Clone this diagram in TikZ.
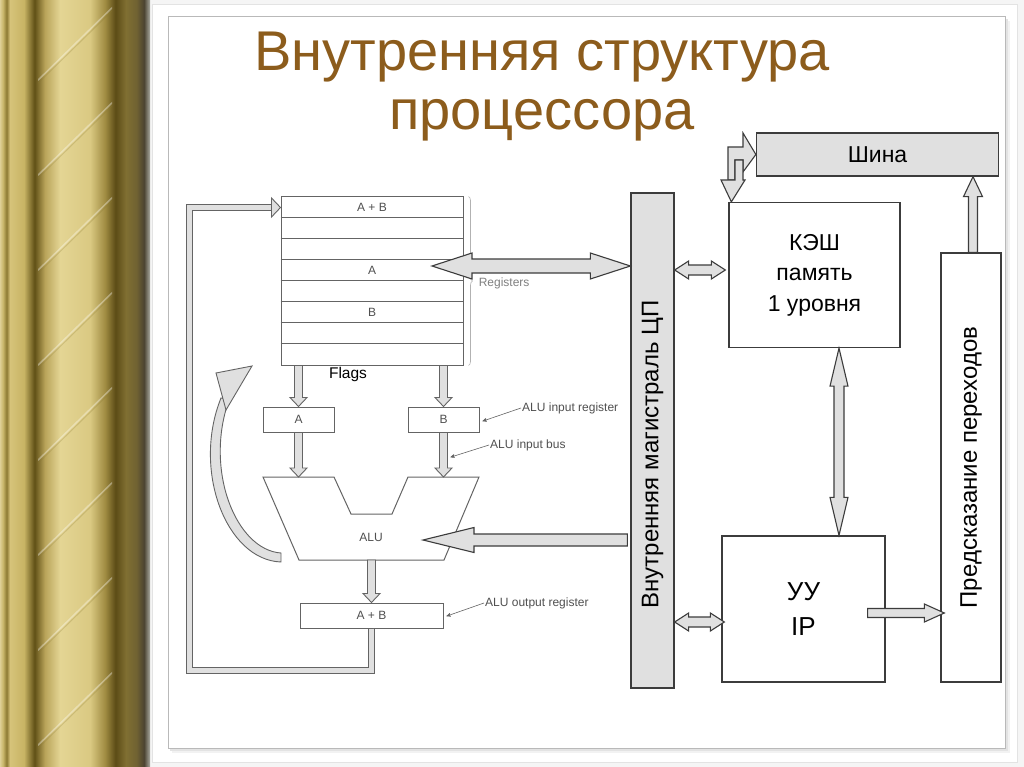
\documentclass[tikz,border=0pt]{standalone}
\usepackage{fontspec}
\setmainfont{Liberation Sans}
\usetikzlibrary{arrows,calc,positioning,decorations.pathreplacing}

\definecolor{titlebrown}{RGB}{140,92,28}
\definecolor{barfill}{RGB}{224,224,224}
\definecolor{figgray}{RGB}{100,100,100}
\definecolor{figtxt}{RGB}{80,80,80}
\definecolor{boxline}{RGB}{60,60,60}
% gold column
\definecolor{gA}{RGB}{222,208,150}
\definecolor{gB}{RGB}{200,182,106}
\definecolor{gC}{RGB}{140,122,51}
\definecolor{gD}{RGB}{214,195,122}
\definecolor{gE}{RGB}{200,180,100}
\definecolor{gF}{RGB}{96,80,22}
\definecolor{gG}{RGB}{185,164,90}
\definecolor{gH}{RGB}{228,213,148}
\definecolor{gI}{RGB}{218,201,130}
\definecolor{gJ}{RGB}{160,140,66}
\definecolor{gK}{RGB}{92,76,22}
\definecolor{gL}{RGB}{128,111,50}
\definecolor{gM}{RGB}{112,98,50}
\definecolor{gN}{RGB}{76,68,50}
\definecolor{gO}{RGB}{170,170,162}
\pgfdeclarehorizontalshading{goldcolumn}{100bp}{color(0bp)=(gA); color(25bp)=(gA);
  color(26bp)=(gB); color(27.2bp)=(gC); color(28.3bp)=(gD); color(33bp)=(gE);
  color(36.5bp)=(gF); color(40bp)=(gG); color(45bp)=(gH); color(55bp)=(gI);
  color(60bp)=(gJ); color(63.5bp)=(gK); color(67bp)=(gL); color(70.5bp)=(gM);
  color(73bp)=(gN); color(75bp)=(gO); color(100bp)=(gO)}

\newcommand{\fatw}{4pt}
\newcommand{\fath}{9pt}
\newcommand{\fatl}{9pt}

\tikzset{
  arrsize/.code args={#1/#2/#3}{\def\fatw{#1pt}\def\fath{#2pt}\def\fatl{#3pt}},
  fat/.style={to path={let \p1=(\tikztostart), \p2=(\tikztotarget),
      \n1={atan2(\y2-\y1,\x2-\x1)} in
      ($(\p1)+(\n1+90:\fatw)$) -- ($(\p2)+(\n1+180:\fatl)+(\n1+90:\fatw)$)
      -- ($(\p2)+(\n1+180:\fatl)+(\n1+90:\fath)$) -- (\p2)
      -- ($(\p2)+(\n1+180:\fatl)+(\n1-90:\fath)$) -- ($(\p2)+(\n1+180:\fatl)+(\n1-90:\fatw)$)
      -- ($(\p1)+(\n1-90:\fatw)$) -- cycle}},
  fatdbl/.style={to path={let \p1=(\tikztostart), \p2=(\tikztotarget),
      \n1={atan2(\y2-\y1,\x2-\x1)} in
      ($(\p1)+(\n1:\fatl)+(\n1+90:\fatw)$) -- ($(\p2)+(\n1+180:\fatl)+(\n1+90:\fatw)$)
      -- ($(\p2)+(\n1+180:\fatl)+(\n1+90:\fath)$) -- (\p2)
      -- ($(\p2)+(\n1+180:\fatl)+(\n1-90:\fath)$) -- ($(\p2)+(\n1+180:\fatl)+(\n1-90:\fatw)$)
      -- ($(\p1)+(\n1:\fatl)+(\n1-90:\fatw)$) -- ($(\p1)+(\n1:\fatl)+(\n1-90:\fath)$)
      -- (\p1) -- ($(\p1)+(\n1:\fatl)+(\n1+90:\fath)$) -- cycle}},
}

\begin{document}
\begin{tikzpicture}[x=1pt, y=-1pt, >=stealth',
  figline/.style={draw=figgray, line width=1pt},
  figbox/.style={figline, rectangle, inner sep=0pt, fill=white},
  figtext/.style={font=\fontsize{12}{14}\selectfont, text=figtxt, inner sep=1pt},
  blk/.style={draw=boxline, line width=1.3pt, rectangle, inner sep=0pt, fill=white, align=center},
  bigarr/.style={fat, draw=boxline, fill=barfill, line width=1.1pt, line join=miter},
  bigarr2/.style={fatdbl, draw=boxline, fill=barfill, line width=1.1pt, line join=miter},
  smallarr/.style={fat, draw=figgray, fill=barfill, line width=.9pt, line join=miter, arrsize=4/8.5/9},
  leader/.style={draw=figgray, line width=.6pt, ->, shorten >=1pt},
  loopline/.style={draw=figgray, double=barfill, double distance=5pt, line width=1pt},
  rottext/.style={rotate=90, font=\fontsize{24}{28}\selectfont},
]
\useasboundingbox (0,0) rectangle (1024,767);

% slide background
\fill[gray!8] (148,0) rectangle (1024,767);
\fill[white, draw=gray!22] (152,4) rectangle (1017,762);
\fill[gray!10] (172,21) rectangle (1010,753);
\fill[gray!22] (170,19) rectangle (1008,751);
\fill[white, draw=gray!55, line width=1pt] (168,17) rectangle (1005,748);
\shade[shading=goldcolumn] (0,0) rectangle (150,767);
\begin{scope}
  \clip (38,0) rectangle (112,767);
  \foreach \k in {-1,...,9} {
    \draw[white, opacity=.35, line width=1.5pt] (30,\k*95+88) -- (120,\k*95);
    \draw[gC, opacity=.25, line width=1pt] (30,\k*95+91) -- (120,\k*95+3);
  }
\end{scope}

% title
\node[align=center, inner sep=0pt, text=titlebrown, font=\fontsize{56}{59}\selectfont]
  (ttl) at (542,87) {Внутренняя структура\\процессора};

% registers
\node[figbox, minimum width=182, minimum height=168] (regs) at (372,281) {};
\foreach \k in {1,...,7}
  \draw[figline] ($(regs.north west)+(0,21*\k)$) -- ++(182,0);
\node[figtext] (rab) at ($(regs.north)+(0,10.5)$) {A + B};
\node[figtext] (ra) at ($(regs.north)+(0,73.5)$) {A};
\node[figtext] (rb) at ($(regs.north)+(0,115.5)$) {B};
\draw[draw=gray!60, line width=.6pt, decorate, decoration={brace, amplitude=4pt}]
  ($(regs.north east)+(5,0)$) -- ($(regs.south east)+(5,0)$)
  node[figtext, midway, right=9pt, yshift=-2pt, text=gray] (reglbl) {Registers};
\node[font=\fontsize{15.5}{17}\selectfont] (flags) at (348,374) {Flags};

% ALU part
\node[figbox, figtext, minimum width=71, minimum height=25] (ina) at (298.5,419.5) {A};
\node[figbox, figtext, minimum width=71, minimum height=25] (inb) at (443.5,419.5) {B};
\coordinate (alutop) at (371,477);
\coordinate (alubot) at (371.5,560);
\draw[figline, fill=white] (263,477) -- (334,477) -- (351,514) -- (392,514) -- (408,477)
  -- (479,477) -- (444,560) -- (299,560) -- cycle;
\node[figtext] (alu) at (371,537) {ALU};
\node[figbox, figtext, minimum width=143, minimum height=25] (outab) at (371.5,615.5) {A + B};

\draw[smallarr] (regs.south -| ina) to (ina.north);
\draw[smallarr] (regs.south -| inb) to (inb.north);
\draw[smallarr] (ina.south) to (ina.south |- alutop);
\draw[smallarr] (inb.south) to (inb.south |- alutop);
\draw[smallarr] (alubot) to (outab.north);

% result goes back to registers
\coordinate (fbtip) at ($(regs.north west)+(0,11)$);
\draw[loopline] (outab.south) -- ++(0,42) -| ($(fbtip)+(-91,0)$) -- ($(fbtip)+(-9,0)$);
\draw[smallarr, arrsize=3.5/9.5/9] ($(fbtip)+(-9,0)$) to (fbtip);

% flags arrow
\draw[figline, line width=.9pt, fill=barfill] (281,562) .. controls (226,560) and (192,470) .. (221,398)
  -- (229,400) .. controls (204,470) and (236,550) .. (281,553) -- cycle;
\draw[figline, line width=.9pt, fill=barfill] (216,373) -- (252,366) -- (226,410) -- cycle;

% notes
\node[figtext, anchor=west] (lblinreg) at (521,408) {ALU input register};
\draw[leader] (lblinreg.west) -- ($(inb.east)+(2,2)$);
\node[figtext, anchor=west] (lblinbus) at (489,445) {ALU input bus};
\draw[leader] (lblinbus.west) -- ($(inb.south)+(6,25)$);
\node[figtext, anchor=west] (lblout) at (484,603) {ALU output register};
\draw[leader] (lblout.west) -- ($(outab.east)+(2,1)$);

% right part
\node[blk, fill=barfill, minimum width=43, minimum height=495] (bus) at (652.5,440.5) {};
\node[rottext] (buslbl) at ($(bus.center)+(0,14)$) {Внутренняя магистраль ЦП};
\node[blk, fill=barfill, minimum width=242, minimum height=43,
  font=\fontsize{23}{26}\selectfont] (shina) at (877.5,154.5) {Шина};
\node[blk, minimum width=171, minimum height=145, font=\fontsize{23}{30.5}\selectfont]
  (cache) at (814.5,275) {КЭШ\\память\\1 уровня};
\node[blk, minimum width=163, minimum height=146, font=\fontsize{26}{35}\selectfont]
  (cu) at (803.5,609) {УУ\\IP};
\node[blk, minimum width=60, minimum height=429] (pred) at (971,467.5) {};
\node[rottext] (predlbl) at (pred.center) {Предсказание переходов};

\coordinate (regsio) at (432,266);
\draw[bigarr2, arrsize=7/13/40] (regsio) to (bus.west |- regsio);
\draw[bigarr, arrsize=6/12.5/51] ($(bus.west |- alu)+(-3,3)$) to ($(alu.center)+(52,3)$);
\draw[bigarr2, arrsize=5/9/14] ($(bus.east |- cache.west)+(0,-5)$) to ($(cache.west)+(-3,-5)$);
\draw[bigarr2, arrsize=5/9/14] ($(bus.east |- cu.west)+(0,13)$) to ($(cu.west)+(3,13)$);
\draw[bigarr2, arrsize=5/9/38] ($(cache.south)+(24.5,0)$) to ($(cu.north)+(35.5,0)$);
\draw[bigarr, arrsize=4.5/9/20] ($(cu.east)+(-18,4)$) to ($(pred.west |- cu.east)+(4,4)$);
\draw[bigarr, arrsize=4.5/9.5/20] ($(pred.north)+(2,0)$) to ($(pred.north |- shina.south)+(2,0)$);

% cache <-> Шина
\draw[draw=boxline, fill=barfill, line width=1.1pt, line join=miter]
  (728,180) -- (728,147) -- (743,147) -- (743,133) -- (shina.west) -- (743,172)
  -- (743,160) -- (735,160) -- (735,180) -- cycle;
\draw[draw=boxline, fill=barfill, line width=1.1pt, line join=miter]
  (735,160) -- (743,160) -- (743,180) -- (745,180) -- ($(cache.north west)+(3,0)$)
  -- (721,180) -- (735,180) -- cycle;
\end{tikzpicture}
\end{document}
